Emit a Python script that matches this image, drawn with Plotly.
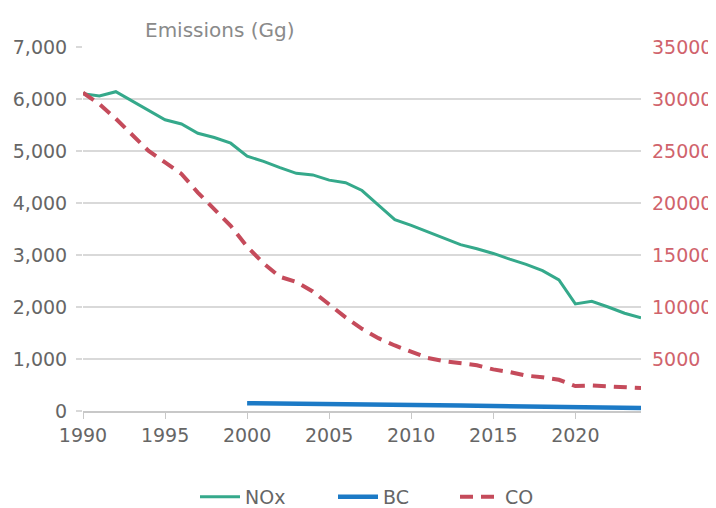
import plotly.graph_objects as go

years = list(range(1990, 2025))
nox = [6100, 6060, 6140, 5960, 5780, 5600, 5520, 5340, 5260, 5150,
       4900, 4800, 4680, 4570, 4540, 4440, 4390, 4240, 3960, 3680,
       3570, 3450, 3320, 3200, 3120, 3030, 2920, 2820, 2700, 2520,
       2060, 2110, 2000, 1880, 1790]
bc_years = list(range(2000, 2025))
bc = [150, 148, 146, 144, 142, 138, 134, 130, 125, 121,
      117, 113, 108, 104, 100, 96, 92, 88, 84, 80,
      72, 70, 66, 62, 58]
co = [30600, 29500, 28100, 26600, 25000, 23900, 22800, 21000, 19400, 17800,
      15800, 14200, 12900, 12400, 11500, 10200, 9000, 7900, 7000, 6300,
      5700, 5100, 4800, 4600, 4400, 4000, 3750, 3400, 3250, 3000,
      2400, 2450, 2350, 2300, 2200]
left_ticks = [0, 1000, 2000, 3000, 4000, 5000, 6000, 7000]
right_ticks = [5000, 10000, 15000, 20000, 25000, 30000, 35000]
x_ticks = [1990, 1995, 2000, 2005, 2010, 2015, 2020]

FONT = "DejaVu Sans"
W, H = 708, 500
fig = go.Figure()
fig.add_trace(go.Scatter(x=years, y=nox, name="NOx", mode="lines", legend="legend",
                         line=dict(color="#35a98b", width=3)))
fig.add_trace(go.Scatter(x=bc_years, y=bc, name="BC", mode="lines", legend="legend2",
                         line=dict(color="#1c7ac6", width=4.5)))
fig.add_trace(go.Scatter(x=years, y=co, name="CO", mode="lines", yaxis="y2",
                         legend="legend3",
                         line=dict(color="#c54b5b", width=4, dash="13px,8px")))

def leg(xpx):
    return dict(orientation="h", xref="container", yref="container",
                x=xpx / W, xanchor="left", y=(H - 489) / H, yanchor="middle",
                font=dict(size=19, color="#666666"), itemwidth=40,
                bgcolor="rgba(0,0,0,0)")

fig.update_layout(
    width=W, height=H,
    margin=dict(l=75, r=75, t=39, b=97),
    paper_bgcolor="white", plot_bgcolor="white",
    font=dict(family=FONT, size=19, color="#666666"),
    xaxis=dict(range=[1990, 2024], tickvals=x_ticks, showgrid=False, automargin=False,
               showline=True, linecolor="#c8c8c8", linewidth=2,
               ticks="outside", ticklen=6, tickcolor="#c8c8c8", tickwidth=1,
               zeroline=False, tickfont=dict(size=19, color="#666666")),
    yaxis=dict(range=[0, 7000], tickvals=left_ticks, tickformat=",d", automargin=False,
               showgrid=True, gridcolor="#d9d9d9", gridwidth=2,
               ticks="outside", ticklen=6, tickcolor="#d9d9d9", tickwidth=2,
               ticklabelstandoff=5,
               zeroline=False, tickfont=dict(size=19, color="#666666")),
    yaxis2=dict(range=[0, 35000], tickvals=right_ticks, tickformat="d", automargin=False,
                overlaying="y", side="right", showgrid=False, zeroline=False,
                ticklabelstandoff=10,
                tickfont=dict(size=19, color="#d0636c")),
    legend=leg(187), legend2=leg(325), legend3=leg(447),
    showlegend=True,
    annotations=[dict(text="Emissions (Gg)", xref="paper", yref="paper",
                      x=0.2455, y=1.047, xanchor="center", yanchor="middle",
                      showarrow=False, font=dict(size=20, color="#8a8a8a"))],
)
fig.write_html("out.html")
